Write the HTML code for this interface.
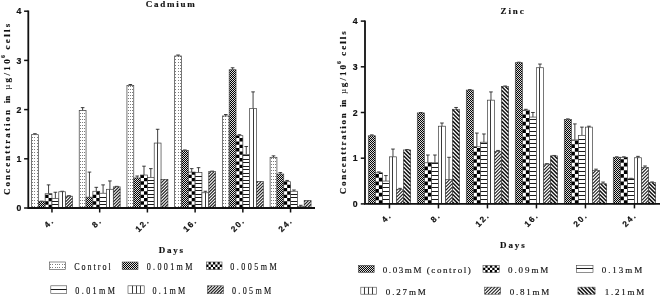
<!DOCTYPE html>
<html><head><meta charset="utf-8"><title>Cadmium and Zinc</title>
<style>
html,body{margin:0;padding:0;background:#fff;}
svg{display:block}
svg{filter:grayscale(1)}
.bar{stroke:#3c3c3c;stroke-width:0.7}
.sw{stroke:#444;stroke-width:0.6}
.eb{stroke:#111;stroke-width:0.8;fill:none}
.vln{stroke:#222;stroke-width:0.9;fill:none}
.axis{stroke:#111;stroke-width:1.8;fill:none}
.tick{stroke:#111;stroke-width:1.5;fill:none}
.tl{font-family:"Liberation Sans",sans-serif;font-weight:bold;font-size:8.7px;fill:#111;stroke:#111;stroke-width:0.2px}
.tt{font-family:"Liberation Serif",serif;font-weight:bold;font-size:9.0px;fill:#111;stroke:#111;stroke-width:0.15px}
.tn{font-family:"Liberation Serif",serif;font-size:9.0px;fill:#111}
.lg{font-family:"Liberation Serif",serif;font-size:9.0px;fill:#111;stroke:#111;stroke-width:0.15px}
</style></head><body>
<svg width="660" height="295" viewBox="0 0 660 295">
<rect width="660" height="295" fill="#fff"/>

<g transform="translate(31.50 208.00)">
<path d="M3.41 -73.31V-74.29M1.61 -74.29H5.21" class="eb"/>
<rect x="0" y="-73.31" width="6.82" height="73.31" fill="#fff"/><path d="M1.00 -1.00V-73.31" stroke="#7c7c7c" stroke-width="1" stroke-dasharray="1 2.00"/><path d="M3.00 -1.00V-73.31" stroke="#7c7c7c" stroke-width="1" stroke-dasharray="1 2.00"/><path d="M6.00 -1.00V-73.31" stroke="#7c7c7c" stroke-width="1" stroke-dasharray="1 2.00"/><rect x="0" y="-73.31" width="6.82" height="73.31" fill="none" class="bar"/>
</g>
<g transform="translate(38.32 208.00)">
<path d="M3.41 -6.40V-6.89M1.61 -6.89H5.21" class="eb"/>
<rect x="0" y="-6.40" width="6.82" height="6.40" fill="#fff"/><path d="M0.340 0V-6.40" stroke="#000" stroke-width="0.680" stroke-dasharray="1.12 0.88" stroke-dashoffset="0.000"/><path d="M1.180 0V-6.40" stroke="#000" stroke-width="1.000" stroke-dasharray="1.12 0.88" stroke-dashoffset="1.000"/><path d="M2.180 0V-6.40" stroke="#000" stroke-width="1.000" stroke-dasharray="1.12 0.88" stroke-dashoffset="0.000"/><path d="M3.180 0V-6.40" stroke="#000" stroke-width="1.000" stroke-dasharray="1.12 0.88" stroke-dashoffset="1.000"/><path d="M4.180 0V-6.40" stroke="#000" stroke-width="1.000" stroke-dasharray="1.12 0.88" stroke-dashoffset="0.000"/><path d="M5.180 0V-6.40" stroke="#000" stroke-width="1.000" stroke-dasharray="1.12 0.88" stroke-dashoffset="1.000"/><path d="M6.180 0V-6.40" stroke="#000" stroke-width="1.000" stroke-dasharray="1.12 0.88" stroke-dashoffset="0.000"/><path d="M6.750 0V-6.40" stroke="#000" stroke-width="0.140" stroke-dasharray="1.12 0.88" stroke-dashoffset="1.000"/><rect x="0" y="-6.40" width="6.82" height="6.40" fill="none" class="bar"/>
</g>
<g transform="translate(45.14 208.00)">
<path d="M3.41 -14.27V-23.12M1.61 -23.12H5.21" class="eb"/>
<rect x="0" y="-14.27" width="6.82" height="14.27" fill="#fff"/><path d="M1.705 0V-14.27" stroke="#000" stroke-width="3.410" stroke-dasharray="3.330 3.330" stroke-dashoffset="3.330"/><path d="M5.115 0V-14.27" stroke="#000" stroke-width="3.410" stroke-dasharray="3.330 3.330" stroke-dashoffset="0.000"/><rect x="0" y="-14.27" width="6.82" height="14.27" fill="none" class="bar"/>
</g>
<g transform="translate(51.96 208.00)">
<path d="M3.41 -9.35V-15.74M1.61 -15.74H5.21" class="eb"/>
<rect x="0" y="-9.35" width="6.82" height="9.35" fill="#fff"/><path d="M0 -3.50H6.82M0 -6.50H6.82" stroke="#1a1a1a" stroke-width="1" fill="none"/><rect x="0" y="-9.35" width="6.82" height="9.35" fill="none" class="bar"/>
</g>
<g transform="translate(58.78 208.00)">
<path d="M3.41 -16.24V-16.73M1.61 -16.73H5.21" class="eb"/>
<rect x="0" y="-16.24" width="6.82" height="16.24" fill="#fff"/><path d="M3.72 0V-16.24" class="vln"/><rect x="0" y="-16.24" width="6.82" height="16.24" fill="none" class="bar"/>
</g>
<g transform="translate(65.60 208.00)">
<path d="M3.41 -11.81V-12.30M1.61 -12.30H5.21" class="eb"/>
<rect x="0" y="-11.81" width="6.82" height="11.81" fill="#fff"/><path d="M6.20 0.00L6.82 -0.62M3.10 0.00L6.82 -3.72M0.00 0.00L6.82 -6.82M0.00 -3.10L6.82 -9.92M0.00 -6.20L5.61 -11.81M0.00 -9.30L2.51 -11.81" stroke="#222" stroke-width="1.15" fill="none"/><rect x="0" y="-11.81" width="6.82" height="11.81" fill="none" class="bar"/>
</g>
<g transform="translate(79.22 208.00)">
<path d="M3.41 -97.42V-100.37M1.61 -100.37H5.21" class="eb"/>
<rect x="0" y="-97.42" width="6.82" height="97.42" fill="#fff"/><path d="M1.28 -1.00V-97.42" stroke="#7c7c7c" stroke-width="1" stroke-dasharray="1 2.00"/><path d="M3.28 -1.00V-97.42" stroke="#7c7c7c" stroke-width="1" stroke-dasharray="1 2.00"/><path d="M5.28 -1.00V-97.42" stroke="#7c7c7c" stroke-width="1" stroke-dasharray="1 2.00"/><rect x="0" y="-97.42" width="6.82" height="97.42" fill="none" class="bar"/>
</g>
<g transform="translate(86.04 208.00)">
<path d="M3.41 -10.82V-35.92M1.61 -35.92H5.21" class="eb"/>
<rect x="0" y="-10.82" width="6.82" height="10.82" fill="#fff"/><path d="M0.480 0V-10.82" stroke="#000" stroke-width="0.960" stroke-dasharray="1.12 0.88" stroke-dashoffset="0.000"/><path d="M1.460 0V-10.82" stroke="#000" stroke-width="1.000" stroke-dasharray="1.12 0.88" stroke-dashoffset="1.000"/><path d="M2.460 0V-10.82" stroke="#000" stroke-width="1.000" stroke-dasharray="1.12 0.88" stroke-dashoffset="0.000"/><path d="M3.460 0V-10.82" stroke="#000" stroke-width="1.000" stroke-dasharray="1.12 0.88" stroke-dashoffset="1.000"/><path d="M4.460 0V-10.82" stroke="#000" stroke-width="1.000" stroke-dasharray="1.12 0.88" stroke-dashoffset="0.000"/><path d="M5.460 0V-10.82" stroke="#000" stroke-width="1.000" stroke-dasharray="1.12 0.88" stroke-dashoffset="1.000"/><path d="M6.390 0V-10.82" stroke="#000" stroke-width="0.860" stroke-dasharray="1.12 0.88" stroke-dashoffset="0.000"/><rect x="0" y="-10.82" width="6.82" height="10.82" fill="none" class="bar"/>
</g>
<g transform="translate(92.86 208.00)">
<path d="M3.41 -16.73V-20.66M1.61 -20.66H5.21" class="eb"/>
<rect x="0" y="-16.73" width="6.82" height="16.73" fill="#fff"/><path d="M1.705 0V-16.73" stroke="#000" stroke-width="3.410" stroke-dasharray="3.330 3.330" stroke-dashoffset="3.330"/><path d="M5.115 0V-16.73" stroke="#000" stroke-width="3.410" stroke-dasharray="3.330 3.330" stroke-dashoffset="0.000"/><rect x="0" y="-16.73" width="6.82" height="16.73" fill="none" class="bar"/>
</g>
<g transform="translate(99.68 208.00)">
<path d="M3.41 -14.76V-23.12M1.61 -23.12H5.21" class="eb"/>
<rect x="0" y="-14.76" width="6.82" height="14.76" fill="#fff"/><path d="M0 -3.50H6.82M0 -6.50H6.82M0 -10.50H6.82" stroke="#1a1a1a" stroke-width="1" fill="none"/><rect x="0" y="-14.76" width="6.82" height="14.76" fill="none" class="bar"/>
</g>
<g transform="translate(106.50 208.00)">
<path d="M3.41 -18.70V-27.06M1.61 -27.06H5.21" class="eb"/>
<rect x="0" y="-18.70" width="6.82" height="18.70" fill="#fff"/><path d="M3.00 0V-18.70" class="vln"/><rect x="0" y="-18.70" width="6.82" height="18.70" fill="none" class="bar"/>
</g>
<g transform="translate(113.32 208.00)">
<path d="M3.41 -21.16V-21.65M1.61 -21.65H5.21" class="eb"/>
<rect x="0" y="-21.16" width="6.82" height="21.16" fill="#fff"/><path d="M6.20 0.00L6.82 -0.62M3.10 0.00L6.82 -3.72M0.00 0.00L6.82 -6.82M0.00 -3.10L6.82 -9.92M0.00 -6.20L6.82 -13.02M0.00 -9.30L6.82 -16.12M0.00 -12.40L6.82 -19.22M0.00 -15.50L5.66 -21.16M0.00 -18.60L2.56 -21.16" stroke="#222" stroke-width="1.15" fill="none"/><rect x="0" y="-21.16" width="6.82" height="21.16" fill="none" class="bar"/>
</g>
<g transform="translate(126.94 208.00)">
<path d="M3.41 -122.51V-123.49M1.61 -123.49H5.21" class="eb"/>
<rect x="0" y="-122.51" width="6.82" height="122.51" fill="#fff"/><path d="M1.56 -1.00V-122.51" stroke="#7c7c7c" stroke-width="1" stroke-dasharray="1 2.00"/><path d="M3.56 -1.00V-122.51" stroke="#7c7c7c" stroke-width="1" stroke-dasharray="1 2.00"/><path d="M5.56 -1.00V-122.51" stroke="#7c7c7c" stroke-width="1" stroke-dasharray="1 2.00"/><rect x="0" y="-122.51" width="6.82" height="122.51" fill="none" class="bar"/>
</g>
<g transform="translate(133.76 208.00)">
<path d="M3.41 -30.01V-31.98M1.61 -31.98H5.21" class="eb"/>
<rect x="0" y="-30.01" width="6.82" height="30.01" fill="#fff"/><path d="M0.120 0V-30.01" stroke="#000" stroke-width="0.240" stroke-dasharray="1.12 0.88" stroke-dashoffset="1.000"/><path d="M0.740 0V-30.01" stroke="#000" stroke-width="1.000" stroke-dasharray="1.12 0.88" stroke-dashoffset="0.000"/><path d="M1.740 0V-30.01" stroke="#000" stroke-width="1.000" stroke-dasharray="1.12 0.88" stroke-dashoffset="1.000"/><path d="M2.740 0V-30.01" stroke="#000" stroke-width="1.000" stroke-dasharray="1.12 0.88" stroke-dashoffset="0.000"/><path d="M3.740 0V-30.01" stroke="#000" stroke-width="1.000" stroke-dasharray="1.12 0.88" stroke-dashoffset="1.000"/><path d="M4.740 0V-30.01" stroke="#000" stroke-width="1.000" stroke-dasharray="1.12 0.88" stroke-dashoffset="0.000"/><path d="M5.740 0V-30.01" stroke="#000" stroke-width="1.000" stroke-dasharray="1.12 0.88" stroke-dashoffset="1.000"/><path d="M6.530 0V-30.01" stroke="#000" stroke-width="0.580" stroke-dasharray="1.12 0.88" stroke-dashoffset="0.000"/><rect x="0" y="-30.01" width="6.82" height="30.01" fill="none" class="bar"/>
</g>
<g transform="translate(140.58 208.00)">
<path d="M3.41 -32.96V-41.82M1.61 -41.82H5.21" class="eb"/>
<rect x="0" y="-32.96" width="6.82" height="32.96" fill="#fff"/><path d="M1.705 0V-32.96" stroke="#000" stroke-width="3.410" stroke-dasharray="3.330 3.330" stroke-dashoffset="3.330"/><path d="M5.115 0V-32.96" stroke="#000" stroke-width="3.410" stroke-dasharray="3.330 3.330" stroke-dashoffset="0.000"/><rect x="0" y="-32.96" width="6.82" height="32.96" fill="none" class="bar"/>
</g>
<g transform="translate(147.40 208.00)">
<path d="M3.41 -30.50V-39.36M1.61 -39.36H5.21" class="eb"/>
<rect x="0" y="-30.50" width="6.82" height="30.50" fill="#fff"/><path d="M0 -3.50H6.82M0 -6.50H6.82M0 -10.50H6.82M0 -13.50H6.82M0 -17.50H6.82M0 -20.50H6.82M0 -24.50H6.82M0 -27.50H6.82" stroke="#1a1a1a" stroke-width="1" fill="none"/><rect x="0" y="-30.50" width="6.82" height="30.50" fill="none" class="bar"/>
</g>
<g transform="translate(154.22 208.00)">
<path d="M3.41 -64.94V-78.72M1.61 -78.72H5.21" class="eb"/>
<rect x="0" y="-64.94" width="6.82" height="64.94" fill="#fff"/><path d="M3.28 0V-64.94" class="vln"/><rect x="0" y="-64.94" width="6.82" height="64.94" fill="none" class="bar"/>
</g>
<g transform="translate(161.04 208.00)">
<rect x="0" y="-28.54" width="6.82" height="28.54" fill="#fff"/><path d="M6.20 0.00L6.82 -0.62M3.10 0.00L6.82 -3.72M0.00 0.00L6.82 -6.82M0.00 -3.10L6.82 -9.92M0.00 -6.20L6.82 -13.02M0.00 -9.30L6.82 -16.12M0.00 -12.40L6.82 -19.22M0.00 -15.50L6.82 -22.32M0.00 -18.60L6.82 -25.42M0.00 -21.70L6.82 -28.52M0.00 -24.80L3.74 -28.54M0.00 -27.90L0.64 -28.54" stroke="#222" stroke-width="1.15" fill="none"/><rect x="0" y="-28.54" width="6.82" height="28.54" fill="none" class="bar"/>
</g>
<g transform="translate(174.66 208.00)">
<path d="M3.41 -152.03V-153.01M1.61 -153.01H5.21" class="eb"/>
<rect x="0" y="-152.03" width="6.82" height="152.03" fill="#fff"/><path d="M0.84 -1.00V-152.03" stroke="#7c7c7c" stroke-width="1" stroke-dasharray="1 2.00"/><path d="M3.84 -1.00V-152.03" stroke="#7c7c7c" stroke-width="1" stroke-dasharray="1 2.00"/><path d="M5.84 -1.00V-152.03" stroke="#7c7c7c" stroke-width="1" stroke-dasharray="1 2.00"/><rect x="0" y="-152.03" width="6.82" height="152.03" fill="none" class="bar"/>
</g>
<g transform="translate(181.48 208.00)">
<path d="M3.41 -57.56V-58.06M1.61 -58.06H5.21" class="eb"/>
<rect x="0" y="-57.56" width="6.82" height="57.56" fill="#fff"/><path d="M0.260 0V-57.56" stroke="#000" stroke-width="0.520" stroke-dasharray="1.12 0.88" stroke-dashoffset="1.000"/><path d="M1.020 0V-57.56" stroke="#000" stroke-width="1.000" stroke-dasharray="1.12 0.88" stroke-dashoffset="0.000"/><path d="M2.020 0V-57.56" stroke="#000" stroke-width="1.000" stroke-dasharray="1.12 0.88" stroke-dashoffset="1.000"/><path d="M3.020 0V-57.56" stroke="#000" stroke-width="1.000" stroke-dasharray="1.12 0.88" stroke-dashoffset="0.000"/><path d="M4.020 0V-57.56" stroke="#000" stroke-width="1.000" stroke-dasharray="1.12 0.88" stroke-dashoffset="1.000"/><path d="M5.020 0V-57.56" stroke="#000" stroke-width="1.000" stroke-dasharray="1.12 0.88" stroke-dashoffset="0.000"/><path d="M6.020 0V-57.56" stroke="#000" stroke-width="1.000" stroke-dasharray="1.12 0.88" stroke-dashoffset="1.000"/><path d="M6.670 0V-57.56" stroke="#000" stroke-width="0.300" stroke-dasharray="1.12 0.88" stroke-dashoffset="0.000"/><rect x="0" y="-57.56" width="6.82" height="57.56" fill="none" class="bar"/>
</g>
<g transform="translate(188.30 208.00)">
<path d="M3.41 -35.92V-39.36M1.61 -39.36H5.21" class="eb"/>
<rect x="0" y="-35.92" width="6.82" height="35.92" fill="#fff"/><path d="M1.705 0V-35.92" stroke="#000" stroke-width="3.410" stroke-dasharray="3.330 3.330" stroke-dashoffset="3.330"/><path d="M5.115 0V-35.92" stroke="#000" stroke-width="3.410" stroke-dasharray="3.330 3.330" stroke-dashoffset="0.000"/><rect x="0" y="-35.92" width="6.82" height="35.92" fill="none" class="bar"/>
</g>
<g transform="translate(195.12 208.00)">
<path d="M3.41 -35.42V-40.34M1.61 -40.34H5.21" class="eb"/>
<rect x="0" y="-35.42" width="6.82" height="35.42" fill="#fff"/><path d="M0 -3.50H6.82M0 -6.50H6.82M0 -10.50H6.82M0 -13.50H6.82M0 -17.50H6.82M0 -20.50H6.82M0 -24.50H6.82M0 -27.50H6.82M0 -31.50H6.82" stroke="#1a1a1a" stroke-width="1" fill="none"/><rect x="0" y="-35.42" width="6.82" height="35.42" fill="none" class="bar"/>
</g>
<g transform="translate(201.94 208.00)">
<path d="M3.41 -15.25V-16.73M1.61 -16.73H5.21" class="eb"/>
<rect x="0" y="-15.25" width="6.82" height="15.25" fill="#fff"/><path d="M3.56 0V-15.25" class="vln"/><rect x="0" y="-15.25" width="6.82" height="15.25" fill="none" class="bar"/>
</g>
<g transform="translate(208.76 208.00)">
<path d="M3.41 -36.41V-36.90M1.61 -36.90H5.21" class="eb"/>
<rect x="0" y="-36.41" width="6.82" height="36.41" fill="#fff"/><path d="M6.20 0.00L6.82 -0.62M3.10 0.00L6.82 -3.72M0.00 0.00L6.82 -6.82M0.00 -3.10L6.82 -9.92M0.00 -6.20L6.82 -13.02M0.00 -9.30L6.82 -16.12M0.00 -12.40L6.82 -19.22M0.00 -15.50L6.82 -22.32M0.00 -18.60L6.82 -25.42M0.00 -21.70L6.82 -28.52M0.00 -24.80L6.82 -31.62M0.00 -27.90L6.82 -34.72M0.00 -31.00L5.41 -36.41M0.00 -34.10L2.31 -36.41" stroke="#222" stroke-width="1.15" fill="none"/><rect x="0" y="-36.41" width="6.82" height="36.41" fill="none" class="bar"/>
</g>
<g transform="translate(222.38 208.00)">
<path d="M3.41 -92.00V-93.48M1.61 -93.48H5.21" class="eb"/>
<rect x="0" y="-92.00" width="6.82" height="92.00" fill="#fff"/><path d="M1.12 -1.00V-92.00" stroke="#7c7c7c" stroke-width="1" stroke-dasharray="1 2.00"/><path d="M3.12 -1.00V-92.00" stroke="#7c7c7c" stroke-width="1" stroke-dasharray="1 2.00"/><path d="M6.12 -1.00V-92.00" stroke="#7c7c7c" stroke-width="1" stroke-dasharray="1 2.00"/><rect x="0" y="-92.00" width="6.82" height="92.00" fill="none" class="bar"/>
</g>
<g transform="translate(229.20 208.00)">
<path d="M3.41 -138.25V-140.22M1.61 -140.22H5.21" class="eb"/>
<rect x="0" y="-138.25" width="6.82" height="138.25" fill="#fff"/><path d="M0.400 0V-138.25" stroke="#000" stroke-width="0.800" stroke-dasharray="1.12 0.88" stroke-dashoffset="1.000"/><path d="M1.300 0V-138.25" stroke="#000" stroke-width="1.000" stroke-dasharray="1.12 0.88" stroke-dashoffset="0.000"/><path d="M2.300 0V-138.25" stroke="#000" stroke-width="1.000" stroke-dasharray="1.12 0.88" stroke-dashoffset="1.000"/><path d="M3.300 0V-138.25" stroke="#000" stroke-width="1.000" stroke-dasharray="1.12 0.88" stroke-dashoffset="0.000"/><path d="M4.300 0V-138.25" stroke="#000" stroke-width="1.000" stroke-dasharray="1.12 0.88" stroke-dashoffset="1.000"/><path d="M5.300 0V-138.25" stroke="#000" stroke-width="1.000" stroke-dasharray="1.12 0.88" stroke-dashoffset="0.000"/><path d="M6.300 0V-138.25" stroke="#000" stroke-width="1.000" stroke-dasharray="1.12 0.88" stroke-dashoffset="1.000"/><rect x="0" y="-138.25" width="6.82" height="138.25" fill="none" class="bar"/>
</g>
<g transform="translate(236.02 208.00)">
<path d="M3.41 -72.32V-73.31M1.61 -73.31H5.21" class="eb"/>
<rect x="0" y="-72.32" width="6.82" height="72.32" fill="#fff"/><path d="M1.705 0V-72.32" stroke="#000" stroke-width="3.410" stroke-dasharray="3.330 3.330" stroke-dashoffset="3.330"/><path d="M5.115 0V-72.32" stroke="#000" stroke-width="3.410" stroke-dasharray="3.330 3.330" stroke-dashoffset="0.000"/><rect x="0" y="-72.32" width="6.82" height="72.32" fill="none" class="bar"/>
</g>
<g transform="translate(242.84 208.00)">
<path d="M3.41 -53.63V-61.50M1.61 -61.50H5.21" class="eb"/>
<rect x="0" y="-53.63" width="6.82" height="53.63" fill="#fff"/><path d="M0 -3.50H6.82M0 -6.50H6.82M0 -10.50H6.82M0 -13.50H6.82M0 -17.50H6.82M0 -20.50H6.82M0 -24.50H6.82M0 -27.50H6.82M0 -31.50H6.82M0 -34.50H6.82M0 -38.50H6.82M0 -41.50H6.82M0 -45.50H6.82M0 -48.50H6.82M0 -52.50H6.82" stroke="#1a1a1a" stroke-width="1" fill="none"/><rect x="0" y="-53.63" width="6.82" height="53.63" fill="none" class="bar"/>
</g>
<g transform="translate(249.66 208.00)">
<path d="M3.41 -99.38V-116.11M1.61 -116.11H5.21" class="eb"/>
<rect x="0" y="-99.38" width="6.82" height="99.38" fill="#fff"/><path d="M3.84 0V-99.38" class="vln"/><rect x="0" y="-99.38" width="6.82" height="99.38" fill="none" class="bar"/>
</g>
<g transform="translate(256.48 208.00)">
<rect x="0" y="-26.57" width="6.82" height="26.57" fill="#fff"/><path d="M6.20 0.00L6.82 -0.62M3.10 0.00L6.82 -3.72M0.00 0.00L6.82 -6.82M0.00 -3.10L6.82 -9.92M0.00 -6.20L6.82 -13.02M0.00 -9.30L6.82 -16.12M0.00 -12.40L6.82 -19.22M0.00 -15.50L6.82 -22.32M0.00 -18.60L6.82 -25.42M0.00 -21.70L4.87 -26.57M0.00 -24.80L1.77 -26.57" stroke="#222" stroke-width="1.15" fill="none"/><rect x="0" y="-26.57" width="6.82" height="26.57" fill="none" class="bar"/>
</g>
<g transform="translate(270.10 208.00)">
<path d="M3.41 -50.68V-52.15M1.61 -52.15H5.21" class="eb"/>
<rect x="0" y="-50.68" width="6.82" height="50.68" fill="#fff"/><path d="M1.40 -1.00V-50.68" stroke="#7c7c7c" stroke-width="1" stroke-dasharray="1 2.00"/><path d="M3.40 -1.00V-50.68" stroke="#7c7c7c" stroke-width="1" stroke-dasharray="1 2.00"/><path d="M5.40 -1.00V-50.68" stroke="#7c7c7c" stroke-width="1" stroke-dasharray="1 2.00"/><rect x="0" y="-50.68" width="6.82" height="50.68" fill="none" class="bar"/>
</g>
<g transform="translate(276.92 208.00)">
<path d="M3.41 -33.95V-35.42M1.61 -35.42H5.21" class="eb"/>
<rect x="0" y="-33.95" width="6.82" height="33.95" fill="#fff"/><path d="M0.040 0V-33.95" stroke="#000" stroke-width="0.080" stroke-dasharray="1.12 0.88" stroke-dashoffset="0.000"/><path d="M0.580 0V-33.95" stroke="#000" stroke-width="1.000" stroke-dasharray="1.12 0.88" stroke-dashoffset="1.000"/><path d="M1.580 0V-33.95" stroke="#000" stroke-width="1.000" stroke-dasharray="1.12 0.88" stroke-dashoffset="0.000"/><path d="M2.580 0V-33.95" stroke="#000" stroke-width="1.000" stroke-dasharray="1.12 0.88" stroke-dashoffset="1.000"/><path d="M3.580 0V-33.95" stroke="#000" stroke-width="1.000" stroke-dasharray="1.12 0.88" stroke-dashoffset="0.000"/><path d="M4.580 0V-33.95" stroke="#000" stroke-width="1.000" stroke-dasharray="1.12 0.88" stroke-dashoffset="1.000"/><path d="M5.580 0V-33.95" stroke="#000" stroke-width="1.000" stroke-dasharray="1.12 0.88" stroke-dashoffset="0.000"/><path d="M6.450 0V-33.95" stroke="#000" stroke-width="0.740" stroke-dasharray="1.12 0.88" stroke-dashoffset="1.000"/><rect x="0" y="-33.95" width="6.82" height="33.95" fill="none" class="bar"/>
</g>
<g transform="translate(283.74 208.00)">
<path d="M3.41 -26.32V-27.55M1.61 -27.55H5.21" class="eb"/>
<rect x="0" y="-26.32" width="6.82" height="26.32" fill="#fff"/><path d="M1.705 0V-26.32" stroke="#000" stroke-width="3.410" stroke-dasharray="3.330 3.330" stroke-dashoffset="3.330"/><path d="M5.115 0V-26.32" stroke="#000" stroke-width="3.410" stroke-dasharray="3.330 3.330" stroke-dashoffset="0.000"/><rect x="0" y="-26.32" width="6.82" height="26.32" fill="none" class="bar"/>
</g>
<g transform="translate(290.56 208.00)">
<path d="M3.41 -16.73V-18.01M1.61 -18.01H5.21" class="eb"/>
<rect x="0" y="-16.73" width="6.82" height="16.73" fill="#fff"/><path d="M0 -3.50H6.82M0 -6.50H6.82M0 -10.50H6.82M0 -13.50H6.82" stroke="#1a1a1a" stroke-width="1" fill="none"/><rect x="0" y="-16.73" width="6.82" height="16.73" fill="none" class="bar"/>
</g>
<g transform="translate(297.38 208.00)">
<path d="M3.41 -1.67V-2.71M1.61 -2.71H5.21" class="eb"/>
<rect x="0" y="-1.67" width="6.82" height="1.67" fill="#fff"/><path d="M3.12 0V-1.67" class="vln"/><rect x="0" y="-1.67" width="6.82" height="1.67" fill="none" class="bar"/>
</g>
<g transform="translate(304.20 208.00)">
<rect x="0" y="-7.48" width="6.82" height="7.48" fill="#fff"/><path d="M6.20 0.00L6.82 -0.62M3.10 0.00L6.82 -3.72M0.00 0.00L6.82 -6.82M0.00 -3.10L4.38 -7.48M0.00 -6.20L1.28 -7.48" stroke="#222" stroke-width="1.15" fill="none"/><rect x="0" y="-7.48" width="6.82" height="7.48" fill="none" class="bar"/>
</g>
<path d="M28.30 10.50V208.90M27.40 208.00H315.00" class="axis"/>
<path d="M24.10 208.00H28.30" class="tick"/>
<text x="21.30" y="211.10" class="tl" text-anchor="end">0</text>
<path d="M24.10 158.80H28.30" class="tick"/>
<text x="21.30" y="161.90" class="tl" text-anchor="end">1</text>
<path d="M24.10 109.60H28.30" class="tick"/>
<text x="21.30" y="112.70" class="tl" text-anchor="end">2</text>
<path d="M24.10 60.40H28.30" class="tick"/>
<text x="21.30" y="63.50" class="tl" text-anchor="end">3</text>
<path d="M24.10 11.20H28.30" class="tick"/>
<text x="21.30" y="14.30" class="tl" text-anchor="end">4</text>
<path d="M51.96 208.00V212.50" class="tick"/>
<text transform="translate(53.56 222.30) rotate(-45)" class="tl" style="letter-spacing:1.6px;font-size:8.2px" text-anchor="end" dx="1.6">4.</text>
<path d="M99.68 208.00V212.50" class="tick"/>
<text transform="translate(101.28 222.30) rotate(-45)" class="tl" style="letter-spacing:1.6px;font-size:8.2px" text-anchor="end" dx="1.6">8.</text>
<path d="M147.40 208.00V212.50" class="tick"/>
<text transform="translate(149.00 222.30) rotate(-45)" class="tl" style="letter-spacing:1.6px;font-size:8.2px" text-anchor="end" dx="1.6">12.</text>
<path d="M195.12 208.00V212.50" class="tick"/>
<text transform="translate(196.72 222.30) rotate(-45)" class="tl" style="letter-spacing:1.6px;font-size:8.2px" text-anchor="end" dx="1.6">16.</text>
<path d="M242.84 208.00V212.50" class="tick"/>
<text transform="translate(244.44 222.30) rotate(-45)" class="tl" style="letter-spacing:1.6px;font-size:8.2px" text-anchor="end" dx="1.6">20.</text>
<path d="M290.56 208.00V212.50" class="tick"/>
<text transform="translate(292.16 222.30) rotate(-45)" class="tl" style="letter-spacing:1.6px;font-size:8.2px" text-anchor="end" dx="1.6">24.</text>
<g transform="translate(368.30 203.90)">
<path d="M3.52 -68.09V-69.01M1.72 -69.01H5.33" class="eb"/>
<rect x="0" y="-68.09" width="7.05" height="68.09" fill="#fff"/><path d="M0.350 0V-68.09" stroke="#000" stroke-width="0.700" stroke-dasharray="1.12 0.88" stroke-dashoffset="-0.900"/><path d="M1.200 0V-68.09" stroke="#000" stroke-width="1.000" stroke-dasharray="1.12 0.88" stroke-dashoffset="0.100"/><path d="M2.200 0V-68.09" stroke="#000" stroke-width="1.000" stroke-dasharray="1.12 0.88" stroke-dashoffset="-0.900"/><path d="M3.200 0V-68.09" stroke="#000" stroke-width="1.000" stroke-dasharray="1.12 0.88" stroke-dashoffset="0.100"/><path d="M4.200 0V-68.09" stroke="#000" stroke-width="1.000" stroke-dasharray="1.12 0.88" stroke-dashoffset="-0.900"/><path d="M5.200 0V-68.09" stroke="#000" stroke-width="1.000" stroke-dasharray="1.12 0.88" stroke-dashoffset="0.100"/><path d="M6.200 0V-68.09" stroke="#000" stroke-width="1.000" stroke-dasharray="1.12 0.88" stroke-dashoffset="-0.900"/><path d="M6.875 0V-68.09" stroke="#000" stroke-width="0.350" stroke-dasharray="1.12 0.88" stroke-dashoffset="0.100"/><rect x="0" y="-68.09" width="7.05" height="68.09" fill="none" class="bar"/>
</g>
<g transform="translate(375.35 203.90)">
<path d="M3.52 -31.08V-31.99M1.72 -31.99H5.33" class="eb"/>
<rect x="0" y="-31.08" width="7.05" height="31.08" fill="#fff"/><path d="M1.762 0V-31.08" stroke="#000" stroke-width="3.525" stroke-dasharray="3.730 3.730" stroke-dashoffset="3.730"/><path d="M5.287 0V-31.08" stroke="#000" stroke-width="3.525" stroke-dasharray="3.730 3.730" stroke-dashoffset="0.000"/><rect x="0" y="-31.08" width="7.05" height="31.08" fill="none" class="bar"/>
</g>
<g transform="translate(382.40 203.90)">
<path d="M3.52 -22.85V-28.33M1.72 -28.33H5.33" class="eb"/>
<rect x="0" y="-22.85" width="7.05" height="22.85" fill="#fff"/><path d="M0 -4.40H7.05M0 -8.40H7.05M0 -12.40H7.05M0 -16.40H7.05M0 -20.40H7.05" stroke="#1a1a1a" stroke-width="1" fill="none"/><rect x="0" y="-22.85" width="7.05" height="22.85" fill="none" class="bar"/>
</g>
<g transform="translate(389.45 203.90)">
<path d="M3.52 -47.07V-54.84M1.72 -54.84H5.33" class="eb"/>
<rect x="0" y="-47.07" width="7.05" height="47.07" fill="#fff"/><path d="M3.05 0V-47.07" class="vln"/><rect x="0" y="-47.07" width="7.05" height="47.07" fill="none" class="bar"/>
</g>
<g transform="translate(396.50 203.90)">
<path d="M3.52 -14.62V-15.54M1.72 -15.54H5.33" class="eb"/>
<rect x="0" y="-14.62" width="7.05" height="14.62" fill="#fff"/><path d="M6.70 0.00L7.05 -0.35M3.35 0.00L7.05 -3.70M0.00 0.00L7.05 -7.05M0.00 -3.35L7.05 -10.40M0.00 -6.70L7.05 -13.75M0.00 -10.05L4.57 -14.62M0.00 -13.40L1.22 -14.62" stroke="#222" stroke-width="1.1" fill="none"/><rect x="0" y="-14.62" width="7.05" height="14.62" fill="none" class="bar"/>
</g>
<g transform="translate(403.55 203.90)">
<path d="M3.52 -53.93V-54.38M1.72 -54.38H5.33" class="eb"/>
<rect x="0" y="-53.93" width="7.05" height="53.93" fill="#fff"/><path d="M0.00 -1.93L1.93 0.00M0.00 -5.78L5.78 0.00M0.00 -9.62L7.05 -2.58M0.00 -13.47L7.05 -6.42M0.00 -17.32L7.05 -10.27M0.00 -21.18L7.05 -14.12M0.00 -25.03L7.05 -17.98M0.00 -28.88L7.05 -21.83M0.00 -32.73L7.05 -25.68M0.00 -36.58L7.05 -29.53M0.00 -40.43L7.05 -33.38M0.00 -44.28L7.05 -37.23M0.00 -48.13L7.05 -41.08M0.00 -51.98L7.05 -44.93M1.90 -53.93L7.05 -48.78M5.75 -53.93L7.05 -52.63" stroke="#111" stroke-width="1.5" fill="none"/><rect x="0" y="-53.93" width="7.05" height="53.93" fill="none" class="bar"/>
</g>
<g transform="translate(417.30 203.90)">
<path d="M3.52 -90.94V-91.40M1.72 -91.40H5.33" class="eb"/>
<rect x="0" y="-90.94" width="7.05" height="90.94" fill="#fff"/><path d="M0.350 0V-90.94" stroke="#000" stroke-width="0.700" stroke-dasharray="1.12 0.88" stroke-dashoffset="0.100"/><path d="M1.200 0V-90.94" stroke="#000" stroke-width="1.000" stroke-dasharray="1.12 0.88" stroke-dashoffset="-0.900"/><path d="M2.200 0V-90.94" stroke="#000" stroke-width="1.000" stroke-dasharray="1.12 0.88" stroke-dashoffset="0.100"/><path d="M3.200 0V-90.94" stroke="#000" stroke-width="1.000" stroke-dasharray="1.12 0.88" stroke-dashoffset="-0.900"/><path d="M4.200 0V-90.94" stroke="#000" stroke-width="1.000" stroke-dasharray="1.12 0.88" stroke-dashoffset="0.100"/><path d="M5.200 0V-90.94" stroke="#000" stroke-width="1.000" stroke-dasharray="1.12 0.88" stroke-dashoffset="-0.900"/><path d="M6.200 0V-90.94" stroke="#000" stroke-width="1.000" stroke-dasharray="1.12 0.88" stroke-dashoffset="0.100"/><path d="M6.875 0V-90.94" stroke="#000" stroke-width="0.350" stroke-dasharray="1.12 0.88" stroke-dashoffset="-0.900"/><rect x="0" y="-90.94" width="7.05" height="90.94" fill="none" class="bar"/>
</g>
<g transform="translate(424.35 203.90)">
<path d="M3.52 -41.13V-48.90M1.72 -48.90H5.33" class="eb"/>
<rect x="0" y="-41.13" width="7.05" height="41.13" fill="#fff"/><path d="M1.762 0V-41.13" stroke="#000" stroke-width="3.525" stroke-dasharray="3.730 3.730" stroke-dashoffset="3.730"/><path d="M5.287 0V-41.13" stroke="#000" stroke-width="3.525" stroke-dasharray="3.730 3.730" stroke-dashoffset="0.000"/><rect x="0" y="-41.13" width="7.05" height="41.13" fill="none" class="bar"/>
</g>
<g transform="translate(431.40 203.90)">
<path d="M3.52 -41.13V-48.90M1.72 -48.90H5.33" class="eb"/>
<rect x="0" y="-41.13" width="7.05" height="41.13" fill="#fff"/><path d="M0 -4.40H7.05M0 -8.40H7.05M0 -12.40H7.05M0 -16.40H7.05M0 -20.40H7.05M0 -24.40H7.05M0 -28.40H7.05M0 -32.40H7.05M0 -36.40H7.05M0 -40.40H7.05" stroke="#1a1a1a" stroke-width="1" fill="none"/><rect x="0" y="-41.13" width="7.05" height="41.13" fill="none" class="bar"/>
</g>
<g transform="translate(438.45 203.90)">
<path d="M3.52 -77.69V-80.89M1.72 -80.89H5.33" class="eb"/>
<rect x="0" y="-77.69" width="7.05" height="77.69" fill="#fff"/><path d="M3.05 0V-77.69" class="vln"/><rect x="0" y="-77.69" width="7.05" height="77.69" fill="none" class="bar"/>
</g>
<g transform="translate(445.50 203.90)">
<path d="M3.52 -24.22V-46.61M1.72 -46.61H5.33" class="eb"/>
<rect x="0" y="-24.22" width="7.05" height="24.22" fill="#fff"/><path d="M6.70 0.00L7.05 -0.35M3.35 0.00L7.05 -3.70M0.00 0.00L7.05 -7.05M0.00 -3.35L7.05 -10.40M0.00 -6.70L7.05 -13.75M0.00 -10.05L7.05 -17.10M0.00 -13.40L7.05 -20.45M0.00 -16.75L7.05 -23.80M0.00 -20.10L4.12 -24.22M0.00 -23.45L0.77 -24.22" stroke="#222" stroke-width="1.1" fill="none"/><rect x="0" y="-24.22" width="7.05" height="24.22" fill="none" class="bar"/>
</g>
<g transform="translate(452.55 203.90)">
<path d="M3.52 -94.60V-96.43M1.72 -96.43H5.33" class="eb"/>
<rect x="0" y="-94.60" width="7.05" height="94.60" fill="#fff"/><path d="M0.00 -1.93L1.93 0.00M0.00 -5.78L5.78 0.00M0.00 -9.62L7.05 -2.58M0.00 -13.47L7.05 -6.42M0.00 -17.32L7.05 -10.27M0.00 -21.18L7.05 -14.12M0.00 -25.03L7.05 -17.98M0.00 -28.88L7.05 -21.83M0.00 -32.73L7.05 -25.68M0.00 -36.58L7.05 -29.53M0.00 -40.43L7.05 -33.38M0.00 -44.28L7.05 -37.23M0.00 -48.13L7.05 -41.08M0.00 -51.98L7.05 -44.93M0.00 -55.83L7.05 -48.78M0.00 -59.68L7.05 -52.63M0.00 -63.53L7.05 -56.48M0.00 -67.38L7.05 -60.33M0.00 -71.23L7.05 -64.18M0.00 -75.08L7.05 -68.03M0.00 -78.92L7.05 -71.88M0.00 -82.77L7.05 -75.72M0.00 -86.62L7.05 -79.57M0.00 -90.47L7.05 -83.42M0.00 -94.32L7.05 -87.27M3.58 -94.60L7.05 -91.12" stroke="#111" stroke-width="1.5" fill="none"/><rect x="0" y="-94.60" width="7.05" height="94.60" fill="none" class="bar"/>
</g>
<g transform="translate(466.30 203.90)">
<path d="M3.52 -113.79V-114.25M1.72 -114.25H5.33" class="eb"/>
<rect x="0" y="-113.79" width="7.05" height="113.79" fill="#fff"/><path d="M0.350 0V-113.79" stroke="#000" stroke-width="0.700" stroke-dasharray="1.12 0.88" stroke-dashoffset="-0.900"/><path d="M1.200 0V-113.79" stroke="#000" stroke-width="1.000" stroke-dasharray="1.12 0.88" stroke-dashoffset="0.100"/><path d="M2.200 0V-113.79" stroke="#000" stroke-width="1.000" stroke-dasharray="1.12 0.88" stroke-dashoffset="-0.900"/><path d="M3.200 0V-113.79" stroke="#000" stroke-width="1.000" stroke-dasharray="1.12 0.88" stroke-dashoffset="0.100"/><path d="M4.200 0V-113.79" stroke="#000" stroke-width="1.000" stroke-dasharray="1.12 0.88" stroke-dashoffset="-0.900"/><path d="M5.200 0V-113.79" stroke="#000" stroke-width="1.000" stroke-dasharray="1.12 0.88" stroke-dashoffset="0.100"/><path d="M6.200 0V-113.79" stroke="#000" stroke-width="1.000" stroke-dasharray="1.12 0.88" stroke-dashoffset="-0.900"/><path d="M6.875 0V-113.79" stroke="#000" stroke-width="0.350" stroke-dasharray="1.12 0.88" stroke-dashoffset="0.100"/><rect x="0" y="-113.79" width="7.05" height="113.79" fill="none" class="bar"/>
</g>
<g transform="translate(473.35 203.90)">
<path d="M3.52 -57.12V-70.84M1.72 -70.84H5.33" class="eb"/>
<rect x="0" y="-57.12" width="7.05" height="57.12" fill="#fff"/><path d="M1.762 0V-57.12" stroke="#000" stroke-width="3.525" stroke-dasharray="3.730 3.730" stroke-dashoffset="3.730"/><path d="M5.287 0V-57.12" stroke="#000" stroke-width="3.525" stroke-dasharray="3.730 3.730" stroke-dashoffset="0.000"/><rect x="0" y="-57.12" width="7.05" height="57.12" fill="none" class="bar"/>
</g>
<g transform="translate(480.40 203.90)">
<path d="M3.52 -61.70V-69.92M1.72 -69.92H5.33" class="eb"/>
<rect x="0" y="-61.70" width="7.05" height="61.70" fill="#fff"/><path d="M0 -4.40H7.05M0 -8.40H7.05M0 -12.40H7.05M0 -16.40H7.05M0 -20.40H7.05M0 -24.40H7.05M0 -28.40H7.05M0 -32.40H7.05M0 -36.40H7.05M0 -40.40H7.05M0 -44.40H7.05M0 -48.40H7.05M0 -52.40H7.05M0 -56.40H7.05M0 -60.40H7.05" stroke="#1a1a1a" stroke-width="1" fill="none"/><rect x="0" y="-61.70" width="7.05" height="61.70" fill="none" class="bar"/>
</g>
<g transform="translate(487.45 203.90)">
<path d="M3.52 -103.74V-111.97M1.72 -111.97H5.33" class="eb"/>
<rect x="0" y="-103.74" width="7.05" height="103.74" fill="#fff"/><path d="M3.05 0V-103.74" class="vln"/><rect x="0" y="-103.74" width="7.05" height="103.74" fill="none" class="bar"/>
</g>
<g transform="translate(494.50 203.90)">
<path d="M3.52 -52.55V-53.47M1.72 -53.47H5.33" class="eb"/>
<rect x="0" y="-52.55" width="7.05" height="52.55" fill="#fff"/><path d="M6.70 0.00L7.05 -0.35M3.35 0.00L7.05 -3.70M0.00 0.00L7.05 -7.05M0.00 -3.35L7.05 -10.40M0.00 -6.70L7.05 -13.75M0.00 -10.05L7.05 -17.10M0.00 -13.40L7.05 -20.45M0.00 -16.75L7.05 -23.80M0.00 -20.10L7.05 -27.15M0.00 -23.45L7.05 -30.50M0.00 -26.80L7.05 -33.85M0.00 -30.15L7.05 -37.20M0.00 -33.50L7.05 -40.55M0.00 -36.85L7.05 -43.90M0.00 -40.20L7.05 -47.25M0.00 -43.55L7.05 -50.60M0.00 -46.90L5.65 -52.55M0.00 -50.25L2.30 -52.55" stroke="#222" stroke-width="1.1" fill="none"/><rect x="0" y="-52.55" width="7.05" height="52.55" fill="none" class="bar"/>
</g>
<g transform="translate(501.55 203.90)">
<path d="M3.52 -117.45V-117.91M1.72 -117.91H5.33" class="eb"/>
<rect x="0" y="-117.45" width="7.05" height="117.45" fill="#fff"/><path d="M0.00 -1.93L1.93 0.00M0.00 -5.78L5.78 0.00M0.00 -9.62L7.05 -2.58M0.00 -13.47L7.05 -6.42M0.00 -17.32L7.05 -10.27M0.00 -21.18L7.05 -14.12M0.00 -25.03L7.05 -17.98M0.00 -28.88L7.05 -21.83M0.00 -32.73L7.05 -25.68M0.00 -36.58L7.05 -29.53M0.00 -40.43L7.05 -33.38M0.00 -44.28L7.05 -37.23M0.00 -48.13L7.05 -41.08M0.00 -51.98L7.05 -44.93M0.00 -55.83L7.05 -48.78M0.00 -59.68L7.05 -52.63M0.00 -63.53L7.05 -56.48M0.00 -67.38L7.05 -60.33M0.00 -71.23L7.05 -64.18M0.00 -75.08L7.05 -68.03M0.00 -78.92L7.05 -71.88M0.00 -82.77L7.05 -75.72M0.00 -86.62L7.05 -79.57M0.00 -90.47L7.05 -83.42M0.00 -94.32L7.05 -87.27M0.00 -98.17L7.05 -91.12M0.00 -102.02L7.05 -94.97M0.00 -105.87L7.05 -98.82M0.00 -109.72L7.05 -102.67M0.00 -113.57L7.05 -106.52M0.00 -117.42L7.05 -110.37M3.83 -117.45L7.05 -114.22" stroke="#111" stroke-width="1.5" fill="none"/><rect x="0" y="-117.45" width="7.05" height="117.45" fill="none" class="bar"/>
</g>
<g transform="translate(515.30 203.90)">
<path d="M3.52 -141.21V-141.67M1.72 -141.67H5.33" class="eb"/>
<rect x="0" y="-141.21" width="7.05" height="141.21" fill="#fff"/><path d="M0.350 0V-141.21" stroke="#000" stroke-width="0.700" stroke-dasharray="1.12 0.88" stroke-dashoffset="0.100"/><path d="M1.200 0V-141.21" stroke="#000" stroke-width="1.000" stroke-dasharray="1.12 0.88" stroke-dashoffset="-0.900"/><path d="M2.200 0V-141.21" stroke="#000" stroke-width="1.000" stroke-dasharray="1.12 0.88" stroke-dashoffset="0.100"/><path d="M3.200 0V-141.21" stroke="#000" stroke-width="1.000" stroke-dasharray="1.12 0.88" stroke-dashoffset="-0.900"/><path d="M4.200 0V-141.21" stroke="#000" stroke-width="1.000" stroke-dasharray="1.12 0.88" stroke-dashoffset="0.100"/><path d="M5.200 0V-141.21" stroke="#000" stroke-width="1.000" stroke-dasharray="1.12 0.88" stroke-dashoffset="-0.900"/><path d="M6.200 0V-141.21" stroke="#000" stroke-width="1.000" stroke-dasharray="1.12 0.88" stroke-dashoffset="0.100"/><path d="M6.875 0V-141.21" stroke="#000" stroke-width="0.350" stroke-dasharray="1.12 0.88" stroke-dashoffset="-0.900"/><rect x="0" y="-141.21" width="7.05" height="141.21" fill="none" class="bar"/>
</g>
<g transform="translate(522.35 203.90)">
<path d="M3.52 -93.69V-94.60M1.72 -94.60H5.33" class="eb"/>
<rect x="0" y="-93.69" width="7.05" height="93.69" fill="#fff"/><path d="M1.762 0V-93.69" stroke="#000" stroke-width="3.525" stroke-dasharray="3.730 3.730" stroke-dashoffset="3.730"/><path d="M5.287 0V-93.69" stroke="#000" stroke-width="3.525" stroke-dasharray="3.730 3.730" stroke-dashoffset="0.000"/><rect x="0" y="-93.69" width="7.05" height="93.69" fill="none" class="bar"/>
</g>
<g transform="translate(529.40 203.90)">
<path d="M3.52 -86.83V-91.40M1.72 -91.40H5.33" class="eb"/>
<rect x="0" y="-86.83" width="7.05" height="86.83" fill="#fff"/><path d="M0 -4.40H7.05M0 -8.40H7.05M0 -12.40H7.05M0 -16.40H7.05M0 -20.40H7.05M0 -24.40H7.05M0 -28.40H7.05M0 -32.40H7.05M0 -36.40H7.05M0 -40.40H7.05M0 -44.40H7.05M0 -48.40H7.05M0 -52.40H7.05M0 -56.40H7.05M0 -60.40H7.05M0 -64.40H7.05M0 -68.40H7.05M0 -72.40H7.05M0 -76.40H7.05M0 -80.40H7.05M0 -84.40H7.05" stroke="#1a1a1a" stroke-width="1" fill="none"/><rect x="0" y="-86.83" width="7.05" height="86.83" fill="none" class="bar"/>
</g>
<g transform="translate(536.45 203.90)">
<path d="M3.52 -136.19V-139.84M1.72 -139.84H5.33" class="eb"/>
<rect x="0" y="-136.19" width="7.05" height="136.19" fill="#fff"/><path d="M3.05 0V-136.19" class="vln"/><rect x="0" y="-136.19" width="7.05" height="136.19" fill="none" class="bar"/>
</g>
<g transform="translate(543.50 203.90)">
<path d="M3.52 -39.76V-40.22M1.72 -40.22H5.33" class="eb"/>
<rect x="0" y="-39.76" width="7.05" height="39.76" fill="#fff"/><path d="M6.70 0.00L7.05 -0.35M3.35 0.00L7.05 -3.70M0.00 0.00L7.05 -7.05M0.00 -3.35L7.05 -10.40M0.00 -6.70L7.05 -13.75M0.00 -10.05L7.05 -17.10M0.00 -13.40L7.05 -20.45M0.00 -16.75L7.05 -23.80M0.00 -20.10L7.05 -27.15M0.00 -23.45L7.05 -30.50M0.00 -26.80L7.05 -33.85M0.00 -30.15L7.05 -37.20M0.00 -33.50L6.26 -39.76M0.00 -36.85L2.91 -39.76" stroke="#222" stroke-width="1.1" fill="none"/><rect x="0" y="-39.76" width="7.05" height="39.76" fill="none" class="bar"/>
</g>
<g transform="translate(550.55 203.90)">
<path d="M3.52 -47.99V-48.44M1.72 -48.44H5.33" class="eb"/>
<rect x="0" y="-47.99" width="7.05" height="47.99" fill="#fff"/><path d="M0.00 -1.93L1.93 0.00M0.00 -5.78L5.78 0.00M0.00 -9.62L7.05 -2.58M0.00 -13.47L7.05 -6.42M0.00 -17.32L7.05 -10.27M0.00 -21.18L7.05 -14.12M0.00 -25.03L7.05 -17.98M0.00 -28.88L7.05 -21.83M0.00 -32.73L7.05 -25.68M0.00 -36.58L7.05 -29.53M0.00 -40.43L7.05 -33.38M0.00 -44.28L7.05 -37.23M0.14 -47.99L7.05 -41.08M3.99 -47.99L7.05 -44.93" stroke="#111" stroke-width="1.5" fill="none"/><rect x="0" y="-47.99" width="7.05" height="47.99" fill="none" class="bar"/>
</g>
<g transform="translate(564.30 203.90)">
<path d="M3.52 -84.55V-85.00M1.72 -85.00H5.33" class="eb"/>
<rect x="0" y="-84.55" width="7.05" height="84.55" fill="#fff"/><path d="M0.350 0V-84.55" stroke="#000" stroke-width="0.700" stroke-dasharray="1.12 0.88" stroke-dashoffset="-0.900"/><path d="M1.200 0V-84.55" stroke="#000" stroke-width="1.000" stroke-dasharray="1.12 0.88" stroke-dashoffset="0.100"/><path d="M2.200 0V-84.55" stroke="#000" stroke-width="1.000" stroke-dasharray="1.12 0.88" stroke-dashoffset="-0.900"/><path d="M3.200 0V-84.55" stroke="#000" stroke-width="1.000" stroke-dasharray="1.12 0.88" stroke-dashoffset="0.100"/><path d="M4.200 0V-84.55" stroke="#000" stroke-width="1.000" stroke-dasharray="1.12 0.88" stroke-dashoffset="-0.900"/><path d="M5.200 0V-84.55" stroke="#000" stroke-width="1.000" stroke-dasharray="1.12 0.88" stroke-dashoffset="0.100"/><path d="M6.200 0V-84.55" stroke="#000" stroke-width="1.000" stroke-dasharray="1.12 0.88" stroke-dashoffset="-0.900"/><path d="M6.875 0V-84.55" stroke="#000" stroke-width="0.350" stroke-dasharray="1.12 0.88" stroke-dashoffset="0.100"/><rect x="0" y="-84.55" width="7.05" height="84.55" fill="none" class="bar"/>
</g>
<g transform="translate(571.35 203.90)">
<path d="M3.52 -63.98V-79.98M1.72 -79.98H5.33" class="eb"/>
<rect x="0" y="-63.98" width="7.05" height="63.98" fill="#fff"/><path d="M1.762 0V-63.98" stroke="#000" stroke-width="3.525" stroke-dasharray="3.730 3.730" stroke-dashoffset="3.730"/><path d="M5.287 0V-63.98" stroke="#000" stroke-width="3.525" stroke-dasharray="3.730 3.730" stroke-dashoffset="0.000"/><rect x="0" y="-63.98" width="7.05" height="63.98" fill="none" class="bar"/>
</g>
<g transform="translate(578.40 203.90)">
<path d="M3.52 -68.55V-76.78M1.72 -76.78H5.33" class="eb"/>
<rect x="0" y="-68.55" width="7.05" height="68.55" fill="#fff"/><path d="M0 -4.40H7.05M0 -8.40H7.05M0 -12.40H7.05M0 -16.40H7.05M0 -20.40H7.05M0 -24.40H7.05M0 -28.40H7.05M0 -32.40H7.05M0 -36.40H7.05M0 -40.40H7.05M0 -44.40H7.05M0 -48.40H7.05M0 -52.40H7.05M0 -56.40H7.05M0 -60.40H7.05M0 -64.40H7.05" stroke="#1a1a1a" stroke-width="1" fill="none"/><rect x="0" y="-68.55" width="7.05" height="68.55" fill="none" class="bar"/>
</g>
<g transform="translate(585.45 203.90)">
<path d="M3.52 -76.78V-77.69M1.72 -77.69H5.33" class="eb"/>
<rect x="0" y="-76.78" width="7.05" height="76.78" fill="#fff"/><path d="M3.05 0V-76.78" class="vln"/><rect x="0" y="-76.78" width="7.05" height="76.78" fill="none" class="bar"/>
</g>
<g transform="translate(592.50 203.90)">
<path d="M3.52 -33.36V-34.73M1.72 -34.73H5.33" class="eb"/>
<rect x="0" y="-33.36" width="7.05" height="33.36" fill="#fff"/><path d="M6.70 0.00L7.05 -0.35M3.35 0.00L7.05 -3.70M0.00 0.00L7.05 -7.05M0.00 -3.35L7.05 -10.40M0.00 -6.70L7.05 -13.75M0.00 -10.05L7.05 -17.10M0.00 -13.40L7.05 -20.45M0.00 -16.75L7.05 -23.80M0.00 -20.10L7.05 -27.15M0.00 -23.45L7.05 -30.50M0.00 -26.80L6.56 -33.36M0.00 -30.15L3.21 -33.36" stroke="#222" stroke-width="1.1" fill="none"/><rect x="0" y="-33.36" width="7.05" height="33.36" fill="none" class="bar"/>
</g>
<g transform="translate(599.55 203.90)">
<path d="M3.52 -20.11V-21.84M1.72 -21.84H5.33" class="eb"/>
<rect x="0" y="-20.11" width="7.05" height="20.11" fill="#fff"/><path d="M0.00 -1.93L1.93 0.00M0.00 -5.78L5.78 0.00M0.00 -9.62L7.05 -2.58M0.00 -13.47L7.05 -6.42M0.00 -17.32L7.05 -10.27M1.07 -20.11L7.05 -14.12M4.92 -20.11L7.05 -17.98" stroke="#111" stroke-width="1.5" fill="none"/><rect x="0" y="-20.11" width="7.05" height="20.11" fill="none" class="bar"/>
</g>
<g transform="translate(613.30 203.90)">
<path d="M3.52 -46.61V-47.07M1.72 -47.07H5.33" class="eb"/>
<rect x="0" y="-46.61" width="7.05" height="46.61" fill="#fff"/><path d="M0.350 0V-46.61" stroke="#000" stroke-width="0.700" stroke-dasharray="1.12 0.88" stroke-dashoffset="0.100"/><path d="M1.200 0V-46.61" stroke="#000" stroke-width="1.000" stroke-dasharray="1.12 0.88" stroke-dashoffset="-0.900"/><path d="M2.200 0V-46.61" stroke="#000" stroke-width="1.000" stroke-dasharray="1.12 0.88" stroke-dashoffset="0.100"/><path d="M3.200 0V-46.61" stroke="#000" stroke-width="1.000" stroke-dasharray="1.12 0.88" stroke-dashoffset="-0.900"/><path d="M4.200 0V-46.61" stroke="#000" stroke-width="1.000" stroke-dasharray="1.12 0.88" stroke-dashoffset="0.100"/><path d="M5.200 0V-46.61" stroke="#000" stroke-width="1.000" stroke-dasharray="1.12 0.88" stroke-dashoffset="-0.900"/><path d="M6.200 0V-46.61" stroke="#000" stroke-width="1.000" stroke-dasharray="1.12 0.88" stroke-dashoffset="0.100"/><path d="M6.875 0V-46.61" stroke="#000" stroke-width="0.350" stroke-dasharray="1.12 0.88" stroke-dashoffset="-0.900"/><rect x="0" y="-46.61" width="7.05" height="46.61" fill="none" class="bar"/>
</g>
<g transform="translate(620.35 203.90)">
<path d="M3.52 -46.61V-47.07M1.72 -47.07H5.33" class="eb"/>
<rect x="0" y="-46.61" width="7.05" height="46.61" fill="#fff"/><path d="M1.762 0V-46.61" stroke="#000" stroke-width="3.525" stroke-dasharray="3.730 3.730" stroke-dashoffset="3.730"/><path d="M5.287 0V-46.61" stroke="#000" stroke-width="3.525" stroke-dasharray="3.730 3.730" stroke-dashoffset="0.000"/><rect x="0" y="-46.61" width="7.05" height="46.61" fill="none" class="bar"/>
</g>
<g transform="translate(627.40 203.90)">
<path d="M3.52 -25.14V-25.59M1.72 -25.59H5.33" class="eb"/>
<rect x="0" y="-25.14" width="7.05" height="25.14" fill="#fff"/><path d="M0 -4.40H7.05M0 -8.40H7.05M0 -12.40H7.05M0 -16.40H7.05M0 -20.40H7.05M0 -24.40H7.05" stroke="#1a1a1a" stroke-width="1" fill="none"/><rect x="0" y="-25.14" width="7.05" height="25.14" fill="none" class="bar"/>
</g>
<g transform="translate(634.45 203.90)">
<path d="M3.52 -46.16V-47.53M1.72 -47.53H5.33" class="eb"/>
<rect x="0" y="-46.16" width="7.05" height="46.16" fill="#fff"/><path d="M3.05 0V-46.16" class="vln"/><rect x="0" y="-46.16" width="7.05" height="46.16" fill="none" class="bar"/>
</g>
<g transform="translate(641.50 203.90)">
<path d="M3.52 -36.56V-37.93M1.72 -37.93H5.33" class="eb"/>
<rect x="0" y="-36.56" width="7.05" height="36.56" fill="#fff"/><path d="M6.70 0.00L7.05 -0.35M3.35 0.00L7.05 -3.70M0.00 0.00L7.05 -7.05M0.00 -3.35L7.05 -10.40M0.00 -6.70L7.05 -13.75M0.00 -10.05L7.05 -17.10M0.00 -13.40L7.05 -20.45M0.00 -16.75L7.05 -23.80M0.00 -20.10L7.05 -27.15M0.00 -23.45L7.05 -30.50M0.00 -26.80L7.05 -33.85M0.00 -30.15L6.41 -36.56M0.00 -33.50L3.06 -36.56" stroke="#222" stroke-width="1.1" fill="none"/><rect x="0" y="-36.56" width="7.05" height="36.56" fill="none" class="bar"/>
</g>
<g transform="translate(648.55 203.90)">
<path d="M3.52 -21.48V-21.94M1.72 -21.94H5.33" class="eb"/>
<rect x="0" y="-21.48" width="7.05" height="21.48" fill="#fff"/><path d="M0.00 -1.93L1.93 0.00M0.00 -5.78L5.78 0.00M0.00 -9.62L7.05 -2.58M0.00 -13.47L7.05 -6.42M0.00 -17.32L7.05 -10.27M0.00 -21.18L7.05 -14.12M3.55 -21.48L7.05 -17.98" stroke="#111" stroke-width="1.5" fill="none"/><rect x="0" y="-21.48" width="7.05" height="21.48" fill="none" class="bar"/>
</g>
<path d="M365.00 20.40V204.80M364.10 203.90H660.00" class="axis"/>
<path d="M360.80 203.90H365.00" class="tick"/>
<text x="357.60" y="207.00" class="tl" text-anchor="end">0</text>
<path d="M360.80 158.20H365.00" class="tick"/>
<text x="357.60" y="161.30" class="tl" text-anchor="end">1</text>
<path d="M360.80 112.50H365.00" class="tick"/>
<text x="357.60" y="115.60" class="tl" text-anchor="end">2</text>
<path d="M360.80 66.80H365.00" class="tick"/>
<text x="357.60" y="69.90" class="tl" text-anchor="end">3</text>
<path d="M360.80 21.10H365.00" class="tick"/>
<text x="357.60" y="24.20" class="tl" text-anchor="end">4</text>
<path d="M389.45 203.90V208.40" class="tick"/>
<text transform="translate(391.05 217.10) rotate(-45)" class="tl" style="letter-spacing:1.6px;font-size:8.2px" text-anchor="end" dx="1.6">4.</text>
<path d="M438.45 203.90V208.40" class="tick"/>
<text transform="translate(440.05 217.10) rotate(-45)" class="tl" style="letter-spacing:1.6px;font-size:8.2px" text-anchor="end" dx="1.6">8.</text>
<path d="M487.45 203.90V208.40" class="tick"/>
<text transform="translate(489.05 217.10) rotate(-45)" class="tl" style="letter-spacing:1.6px;font-size:8.2px" text-anchor="end" dx="1.6">12.</text>
<path d="M536.45 203.90V208.40" class="tick"/>
<text transform="translate(538.05 217.10) rotate(-45)" class="tl" style="letter-spacing:1.6px;font-size:8.2px" text-anchor="end" dx="1.6">16.</text>
<path d="M585.45 203.90V208.40" class="tick"/>
<text transform="translate(587.05 217.10) rotate(-45)" class="tl" style="letter-spacing:1.6px;font-size:8.2px" text-anchor="end" dx="1.6">20.</text>
<path d="M634.45 203.90V208.40" class="tick"/>
<text transform="translate(636.05 217.10) rotate(-45)" class="tl" style="letter-spacing:1.6px;font-size:8.2px" text-anchor="end" dx="1.6">24.</text>
<g transform="translate(49.50 269.60)">
<rect x="0" y="-7.60" width="16.00" height="7.60" fill="#fff"/><path d="M1.00 -1.60V-7.60" stroke="#7c7c7c" stroke-width="1" stroke-dasharray="1 2.00"/><path d="M3.00 -1.60V-7.60" stroke="#7c7c7c" stroke-width="1" stroke-dasharray="1 2.00"/><path d="M6.00 -1.60V-7.60" stroke="#7c7c7c" stroke-width="1" stroke-dasharray="1 2.00"/><path d="M8.00 -1.60V-7.60" stroke="#7c7c7c" stroke-width="1" stroke-dasharray="1 2.00"/><path d="M10.00 -1.60V-7.60" stroke="#7c7c7c" stroke-width="1" stroke-dasharray="1 2.00"/><path d="M13.00 -1.60V-7.60" stroke="#7c7c7c" stroke-width="1" stroke-dasharray="1 2.00"/><path d="M15.00 -1.60V-7.60" stroke="#7c7c7c" stroke-width="1" stroke-dasharray="1 2.00"/><rect x="0" y="-7.60" width="16.00" height="7.60" fill="none" class="sw"/>
</g>
<text transform="translate(74.20 269.90) scale(0.81 1)" class="lg" style="letter-spacing:2.438px;font-size:10px">Control</text>
<g transform="translate(122.20 269.60)">
<rect x="0" y="-7.60" width="15.80" height="7.60" fill="#fff"/><path d="M0.400 0V-7.60" stroke="#000" stroke-width="0.800" stroke-dasharray="1.12 0.88" stroke-dashoffset="-0.600"/><path d="M1.300 0V-7.60" stroke="#000" stroke-width="1.000" stroke-dasharray="1.12 0.88" stroke-dashoffset="0.400"/><path d="M2.300 0V-7.60" stroke="#000" stroke-width="1.000" stroke-dasharray="1.12 0.88" stroke-dashoffset="-0.600"/><path d="M3.300 0V-7.60" stroke="#000" stroke-width="1.000" stroke-dasharray="1.12 0.88" stroke-dashoffset="0.400"/><path d="M4.300 0V-7.60" stroke="#000" stroke-width="1.000" stroke-dasharray="1.12 0.88" stroke-dashoffset="-0.600"/><path d="M5.300 0V-7.60" stroke="#000" stroke-width="1.000" stroke-dasharray="1.12 0.88" stroke-dashoffset="0.400"/><path d="M6.300 0V-7.60" stroke="#000" stroke-width="1.000" stroke-dasharray="1.12 0.88" stroke-dashoffset="-0.600"/><path d="M7.300 0V-7.60" stroke="#000" stroke-width="1.000" stroke-dasharray="1.12 0.88" stroke-dashoffset="0.400"/><path d="M8.300 0V-7.60" stroke="#000" stroke-width="1.000" stroke-dasharray="1.12 0.88" stroke-dashoffset="-0.600"/><path d="M9.300 0V-7.60" stroke="#000" stroke-width="1.000" stroke-dasharray="1.12 0.88" stroke-dashoffset="0.400"/><path d="M10.300 0V-7.60" stroke="#000" stroke-width="1.000" stroke-dasharray="1.12 0.88" stroke-dashoffset="-0.600"/><path d="M11.300 0V-7.60" stroke="#000" stroke-width="1.000" stroke-dasharray="1.12 0.88" stroke-dashoffset="0.400"/><path d="M12.300 0V-7.60" stroke="#000" stroke-width="1.000" stroke-dasharray="1.12 0.88" stroke-dashoffset="-0.600"/><path d="M13.300 0V-7.60" stroke="#000" stroke-width="1.000" stroke-dasharray="1.12 0.88" stroke-dashoffset="0.400"/><path d="M14.300 0V-7.60" stroke="#000" stroke-width="1.000" stroke-dasharray="1.12 0.88" stroke-dashoffset="-0.600"/><path d="M15.300 0V-7.60" stroke="#000" stroke-width="1.000" stroke-dasharray="1.12 0.88" stroke-dashoffset="0.400"/><rect x="0" y="-7.60" width="15.80" height="7.60" fill="none" class="sw"/>
</g>
<text transform="translate(146.70 269.90) scale(0.81 1)" class="lg" style="letter-spacing:2.896px;font-size:10px">0.001mM</text>
<g transform="translate(206.30 269.60)">
<rect x="0" y="-7.60" width="15.70" height="7.60" fill="#fff"/><path d="M1.121 0V-7.60" stroke="#000" stroke-width="2.243" stroke-dasharray="2.533 2.533" stroke-dashoffset="2.533"/><path d="M3.364 0V-7.60" stroke="#000" stroke-width="2.243" stroke-dasharray="2.533 2.533" stroke-dashoffset="0.000"/><path d="M5.607 0V-7.60" stroke="#000" stroke-width="2.243" stroke-dasharray="2.533 2.533" stroke-dashoffset="2.533"/><path d="M7.850 0V-7.60" stroke="#000" stroke-width="2.243" stroke-dasharray="2.533 2.533" stroke-dashoffset="0.000"/><path d="M10.093 0V-7.60" stroke="#000" stroke-width="2.243" stroke-dasharray="2.533 2.533" stroke-dashoffset="2.533"/><path d="M12.336 0V-7.60" stroke="#000" stroke-width="2.243" stroke-dasharray="2.533 2.533" stroke-dashoffset="0.000"/><path d="M14.579 0V-7.60" stroke="#000" stroke-width="2.243" stroke-dasharray="2.533 2.533" stroke-dashoffset="2.533"/><rect x="0" y="-7.60" width="15.70" height="7.60" fill="none" class="sw"/>
</g>
<text transform="translate(230.30 269.90) scale(0.81 1)" class="lg" style="letter-spacing:3.019px;font-size:10px">0.005mM</text>
<g transform="translate(50.80 293.50)">
<rect x="0" y="-7.70" width="15.90" height="7.70" fill="#fff"/><path d="M0 -4.00H15.90" stroke="#1a1a1a" stroke-width="1" fill="none"/><rect x="0" y="-7.70" width="15.90" height="7.70" fill="none" class="sw"/>
</g>
<text transform="translate(75.30 293.80) scale(0.81 1)" class="lg" style="letter-spacing:2.969px;font-size:10px">0.01mM</text>
<g transform="translate(128.00 293.50)">
<rect x="0" y="-7.70" width="16.20" height="7.70" fill="#fff"/><path d="M4.50 0V-7.70M8.50 0V-7.70M12.50 0V-7.70" class="vln"/><rect x="0" y="-7.70" width="16.20" height="7.70" fill="none" class="sw"/>
</g>
<text transform="translate(152.50 293.80) scale(0.81 1)" class="lg" style="letter-spacing:2.831px;font-size:10px">0.1mM</text>
<g transform="translate(207.50 293.50)">
<rect x="0" y="-7.70" width="15.80" height="7.70" fill="#fff"/><path d="M15.50 0.00L15.80 -0.30M12.40 0.00L15.80 -3.40M9.30 0.00L15.80 -6.50M6.20 0.00L13.90 -7.70M3.10 0.00L10.80 -7.70M0.00 0.00L7.70 -7.70M0.00 -3.10L4.60 -7.70M0.00 -6.20L1.50 -7.70" stroke="#222" stroke-width="1.15" fill="none"/><rect x="0" y="-7.70" width="15.80" height="7.70" fill="none" class="sw"/>
</g>
<text transform="translate(232.00 293.80) scale(0.81 1)" class="lg" style="letter-spacing:2.870px;font-size:10px">0.05mM</text>
<g transform="translate(358.30 272.40)">
<rect x="0" y="-7.00" width="15.90" height="7.00" fill="#fff"/><path d="M0.350 0V-7.00" stroke="#000" stroke-width="0.700" stroke-dasharray="1.12 0.88" stroke-dashoffset="-0.400"/><path d="M1.200 0V-7.00" stroke="#000" stroke-width="1.000" stroke-dasharray="1.12 0.88" stroke-dashoffset="0.600"/><path d="M2.200 0V-7.00" stroke="#000" stroke-width="1.000" stroke-dasharray="1.12 0.88" stroke-dashoffset="-0.400"/><path d="M3.200 0V-7.00" stroke="#000" stroke-width="1.000" stroke-dasharray="1.12 0.88" stroke-dashoffset="0.600"/><path d="M4.200 0V-7.00" stroke="#000" stroke-width="1.000" stroke-dasharray="1.12 0.88" stroke-dashoffset="-0.400"/><path d="M5.200 0V-7.00" stroke="#000" stroke-width="1.000" stroke-dasharray="1.12 0.88" stroke-dashoffset="0.600"/><path d="M6.200 0V-7.00" stroke="#000" stroke-width="1.000" stroke-dasharray="1.12 0.88" stroke-dashoffset="-0.400"/><path d="M7.200 0V-7.00" stroke="#000" stroke-width="1.000" stroke-dasharray="1.12 0.88" stroke-dashoffset="0.600"/><path d="M8.200 0V-7.00" stroke="#000" stroke-width="1.000" stroke-dasharray="1.12 0.88" stroke-dashoffset="-0.400"/><path d="M9.200 0V-7.00" stroke="#000" stroke-width="1.000" stroke-dasharray="1.12 0.88" stroke-dashoffset="0.600"/><path d="M10.200 0V-7.00" stroke="#000" stroke-width="1.000" stroke-dasharray="1.12 0.88" stroke-dashoffset="-0.400"/><path d="M11.200 0V-7.00" stroke="#000" stroke-width="1.000" stroke-dasharray="1.12 0.88" stroke-dashoffset="0.600"/><path d="M12.200 0V-7.00" stroke="#000" stroke-width="1.000" stroke-dasharray="1.12 0.88" stroke-dashoffset="-0.400"/><path d="M13.200 0V-7.00" stroke="#000" stroke-width="1.000" stroke-dasharray="1.12 0.88" stroke-dashoffset="0.600"/><path d="M14.200 0V-7.00" stroke="#000" stroke-width="1.000" stroke-dasharray="1.12 0.88" stroke-dashoffset="-0.400"/><path d="M15.200 0V-7.00" stroke="#000" stroke-width="1.000" stroke-dasharray="1.12 0.88" stroke-dashoffset="0.600"/><path d="M15.800 0V-7.00" stroke="#000" stroke-width="0.200" stroke-dasharray="1.12 0.88" stroke-dashoffset="-0.400"/><rect x="0" y="-7.00" width="15.90" height="7.00" fill="none" class="sw"/>
</g>
<text transform="translate(382.80 272.70) scale(1.0 1)" class="lg" style="letter-spacing:1.567px;font-size:9.0px">0.03mM (control)</text>
<g transform="translate(483.00 272.40)">
<rect x="0" y="-7.00" width="16.20" height="7.00" fill="#fff"/><path d="M1.157 0V-7.00" stroke="#000" stroke-width="2.314" stroke-dasharray="2.333 2.333" stroke-dashoffset="2.333"/><path d="M3.471 0V-7.00" stroke="#000" stroke-width="2.314" stroke-dasharray="2.333 2.333" stroke-dashoffset="0.000"/><path d="M5.786 0V-7.00" stroke="#000" stroke-width="2.314" stroke-dasharray="2.333 2.333" stroke-dashoffset="2.333"/><path d="M8.100 0V-7.00" stroke="#000" stroke-width="2.314" stroke-dasharray="2.333 2.333" stroke-dashoffset="0.000"/><path d="M10.414 0V-7.00" stroke="#000" stroke-width="2.314" stroke-dasharray="2.333 2.333" stroke-dashoffset="2.333"/><path d="M12.729 0V-7.00" stroke="#000" stroke-width="2.314" stroke-dasharray="2.333 2.333" stroke-dashoffset="0.000"/><path d="M15.043 0V-7.00" stroke="#000" stroke-width="2.314" stroke-dasharray="2.333 2.333" stroke-dashoffset="2.333"/><rect x="0" y="-7.00" width="16.20" height="7.00" fill="none" class="sw"/>
</g>
<text transform="translate(508.00 272.70) scale(1.0 1)" class="lg" style="letter-spacing:1.909px;font-size:9.0px">0.09mM</text>
<g transform="translate(576.30 272.40)">
<rect x="0" y="-7.00" width="16.70" height="7.00" fill="#fff"/><path d="M0 -3.90H16.70" stroke="#1a1a1a" stroke-width="1" fill="none"/><rect x="0" y="-7.00" width="16.70" height="7.00" fill="none" class="sw"/>
</g>
<text transform="translate(601.70 272.70) scale(1.0 1)" class="lg" style="letter-spacing:1.949px;font-size:9.0px">0.13mM</text>
<g transform="translate(360.80 294.20)">
<rect x="0" y="-7.00" width="15.90" height="7.00" fill="#fff"/><path d="M3.70 0V-7.00M7.70 0V-7.00M11.70 0V-7.00" class="vln"/><rect x="0" y="-7.00" width="15.90" height="7.00" fill="none" class="sw"/>
</g>
<text transform="translate(385.80 294.50) scale(1.0 1)" class="lg" style="letter-spacing:1.849px;font-size:9.0px">0.27mM</text>
<g transform="translate(484.70 294.20)">
<rect x="0" y="-7.00" width="15.80" height="7.00" fill="#fff"/><path d="M13.40 0.00L15.80 -2.40M10.05 0.00L15.80 -5.75M6.70 0.00L13.70 -7.00M3.35 0.00L10.35 -7.00M0.00 0.00L7.00 -7.00M0.00 -3.35L3.65 -7.00M0.00 -6.70L0.30 -7.00" stroke="#222" stroke-width="1.1" fill="none"/><rect x="0" y="-7.00" width="15.80" height="7.00" fill="none" class="sw"/>
</g>
<text transform="translate(509.70 294.50) scale(1.0 1)" class="lg" style="letter-spacing:1.749px;font-size:9.0px">0.81mM</text>
<g transform="translate(578.00 294.20)">
<rect x="0" y="-7.00" width="17.00" height="7.00" fill="#fff"/><path d="M0.00 -1.93L1.93 0.00M0.00 -5.78L5.78 0.00M2.62 -7.00L9.62 0.00M6.47 -7.00L13.47 0.00M10.32 -7.00L17.00 -0.32M14.18 -7.00L17.00 -4.18" stroke="#111" stroke-width="1.5" fill="none"/><rect x="0" y="-7.00" width="17.00" height="7.00" fill="none" class="sw"/>
</g>
<text transform="translate(604.70 294.50) scale(1.0 1)" class="lg" style="letter-spacing:1.749px;font-size:9.0px">1.21mM</text>
<text x="145.80" y="6.80" class="tt" style="letter-spacing:1.732px">Cadmium</text>
<text x="500.50" y="14.40" class="tt" style="letter-spacing:1.899px">Zinc</text>
<text x="158.80" y="252.50" class="tt" style="letter-spacing:1.733px">Days</text>
<text x="500.00" y="247.80" class="tt" style="letter-spacing:1.899px">Days</text>
<g transform="translate(9.70 195.00) rotate(-90)">
<text x="0.00" y="0" class="tt" style="letter-spacing:2.039px;font-size:9.0px">Concenttration</text>
<text x="91.70" y="0" class="tt" style="letter-spacing:-0.006px;font-size:9.0px">in</text>
<text x="105.30" y="0" class="tn" style="letter-spacing:0.000px;font-size:9.0px">µ</text>
<text x="112.50" y="0" class="tt" style="letter-spacing:2.433px;font-size:9.0px">g/10</text>
<text x="136.90" y="-5.1" class="tt" style="letter-spacing:0.000px;font-size:5.9px">6</text>
<text x="145.50" y="0" class="tt" style="letter-spacing:2.327px;font-size:9.0px">cells</text>
</g>
<g transform="translate(346.20 194.20) rotate(-90)">
<text x="0.00" y="0" class="tt" style="letter-spacing:1.722px;font-size:9.0px">Concenttration</text>
<text x="87.25" y="0" class="tt" style="letter-spacing:-0.370px;font-size:9.0px">in</text>
<text x="100.19" y="0" class="tn" style="letter-spacing:0.000px;font-size:9.0px">µ</text>
<text x="107.04" y="0" class="tt" style="letter-spacing:2.057px;font-size:9.0px">g/10</text>
<text x="130.26" y="-5.1" class="tt" style="letter-spacing:0.000px;font-size:5.9px">6</text>
<text x="138.44" y="0" class="tt" style="letter-spacing:2.014px;font-size:9.0px">cells</text>
</g>
</svg>
</body></html>
